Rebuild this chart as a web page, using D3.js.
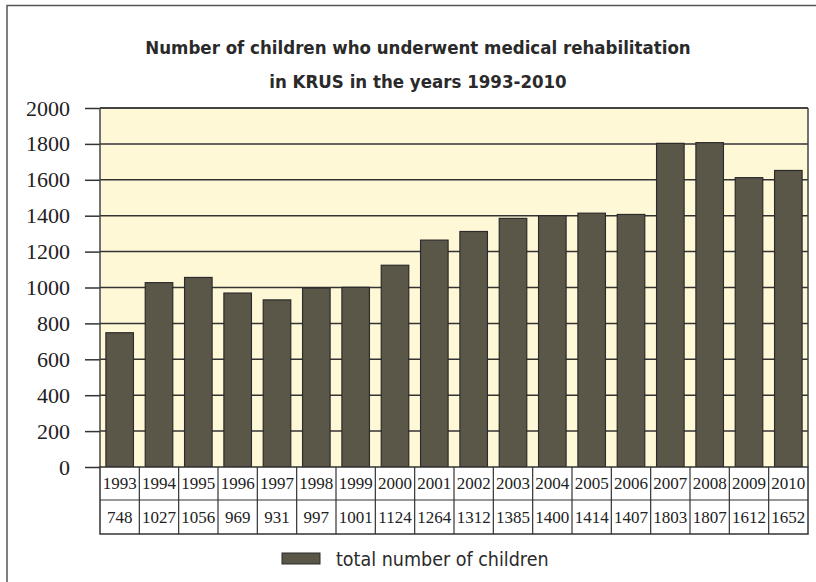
<!DOCTYPE html>
<html lang="en">
<head>
<meta charset="UTF-8">
<title>KRUS rehabilitation</title>
<script src="https://cdn.jsdelivr.net/npm/d3@7"></script>
<style>
  body { margin: 0; background: #fff; }
  .tbl text { font-family: "Liberation Serif", "Times New Roman", serif; font-size: 17px; fill: #222; }
  .title { font-family: "DejaVu Sans Condensed", "DejaVu Sans", sans-serif; font-size: 18.5px; font-weight: bold; fill: #2a2a2a; }
  .legend text { font-family: "DejaVu Sans Condensed", "DejaVu Sans", sans-serif; font-size: 19.5px; fill: #2a2a2a; }
</style>
</head>
<body>
<svg width="816" height="582"></svg>
<script>
// data
const years = ['1993','1994','1995','1996','1997','1998','1999','2000','2001',
  '2002','2003','2004','2005','2006','2007','2008','2009','2010'];
const children = [748, 1027, 1056, 969, 931, 997, 1001, 1124, 1264,
  1312, 1385, 1400, 1414, 1407, 1803, 1807, 1612, 1652];
const yTicks = [0, 200, 400, 600, 800, 1000, 1200, 1400, 1600, 1800, 2000];
const titleLines = ['Number of children who underwent medical rehabilitation',
  'in KRUS in the years 1993-2010'];
const seriesName = 'total number of children';

const svg = d3.select('svg');
const plot = {left: 100, right: 808, top: 108, bottom: 467};
const rowH = [33, 34];

// outer frame (runs off the right and bottom edge)
svg.append('rect')
  .attr('x', 7).attr('y', 5.5).attr('width', 830).attr('height', 600)
  .attr('fill', 'none').attr('stroke', '#555').attr('stroke-width', 1.5);

// title
svg.selectAll('text.title').data(titleLines).join('text')
  .attr('class', 'title')
  .attr('x', 418).attr('y', (d, i) => 54 + i * 34)
  .attr('text-anchor', 'middle')
  .text(d => d);

const x = d3.scaleBand().domain(years).range([plot.left, plot.right]).paddingInner(0.3).paddingOuter(0.15);
const xb = d3.scaleBand().domain(years).range([plot.left, plot.right]);
const y = d3.scaleLinear().domain([0, 2000]).range([plot.bottom, plot.top]);

// plot background
svg.append('rect')
  .attr('x', plot.left).attr('y', plot.top)
  .attr('width', plot.right - plot.left).attr('height', plot.bottom - plot.top)
  .attr('fill', '#fff8d7');

// gridlines + ticks
const yAxis = svg.append('g')
  .attr('transform', `translate(${plot.left},0)`)
  .call(d3.axisLeft(y).tickValues(yTicks).tickSize(15).tickPadding(15).tickFormat(d3.format('d')));
yAxis.select('.domain').remove();
yAxis.selectAll('line').attr('stroke', '#333').attr('stroke-width', 1.5);
yAxis.selectAll('text').attr('dy', '0.32em')
  .style('font-family', '"Liberation Serif", "Times New Roman", serif')
  .style('font-size', '22px').style('fill', '#222');

svg.append('g').selectAll('line').data(yTicks.filter(d => d > 0)).join('line')
  .attr('x1', plot.left).attr('x2', plot.right)
  .attr('y1', d => y(d)).attr('y2', d => y(d))
  .attr('stroke', '#333').attr('stroke-width', 1.5);

// bars
svg.append('g').selectAll('rect').data(years).join('rect')
  .attr('x', d => x(d)).attr('width', x.bandwidth())
  .attr('y', (d, i) => y(children[i]))
  .attr('height', (d, i) => y(0) - y(children[i]))
  .attr('fill', '#5a5749').attr('stroke', '#2b2b2b').attr('stroke-width', 1.2);

// plot border: top, left, right
svg.append('line').attr('x1', plot.left).attr('x2', plot.right).attr('y1', plot.top).attr('y2', plot.top)
  .attr('stroke', '#444').attr('stroke-width', 2);
svg.append('line').attr('x1', plot.left).attr('x2', plot.left).attr('y1', plot.top).attr('y2', plot.bottom)
  .attr('stroke', '#444').attr('stroke-width', 1.5);
svg.append('line').attr('x1', plot.right).attr('x2', plot.right).attr('y1', plot.top).attr('y2', plot.bottom)
  .attr('stroke', '#444').attr('stroke-width', 1.5);

// data table below the axis
const tbl = svg.append('g').attr('class', 'tbl');
const tTop = plot.bottom, tMid = plot.bottom + rowH[0], tBot = tMid + rowH[1];
tbl.append('rect').attr('x', plot.left).attr('y', tTop)
  .attr('width', plot.right - plot.left).attr('height', tBot - tTop)
  .attr('fill', '#fff').attr('stroke', '#333').attr('stroke-width', 1.5);
tbl.append('line').attr('x1', plot.left).attr('x2', plot.right).attr('y1', tMid).attr('y2', tMid)
  .attr('stroke', '#333').attr('stroke-width', 1.2);
tbl.selectAll('line.v').data(years.slice(1)).join('line')
  .attr('class', 'v')
  .attr('x1', d => xb(d)).attr('x2', d => xb(d))
  .attr('y1', tTop).attr('y2', tBot)
  .attr('stroke', '#333').attr('stroke-width', 1.2);
tbl.selectAll('text.yr').data(years).join('text')
  .attr('class', 'yr')
  .attr('x', d => xb(d) + xb.bandwidth() / 2).attr('y', tTop + 22)
  .attr('text-anchor', 'middle').text(d => d);
tbl.selectAll('text.val').data(years).join('text')
  .attr('class', 'val')
  .attr('x', d => xb(d) + xb.bandwidth() / 2).attr('y', tMid + 23)
  .attr('text-anchor', 'middle').text((d, i) => children[i]);

// legend
const lg = svg.append('g').attr('class', 'legend');
lg.append('rect').attr('x', 282).attr('y', 553).attr('width', 38).attr('height', 11)
  .attr('fill', '#5a5749').attr('stroke', '#2b2b2b').attr('stroke-width', 1);
lg.append('text').attr('x', 336).attr('y', 566).text(seriesName);
</script>
</body>
</html>
